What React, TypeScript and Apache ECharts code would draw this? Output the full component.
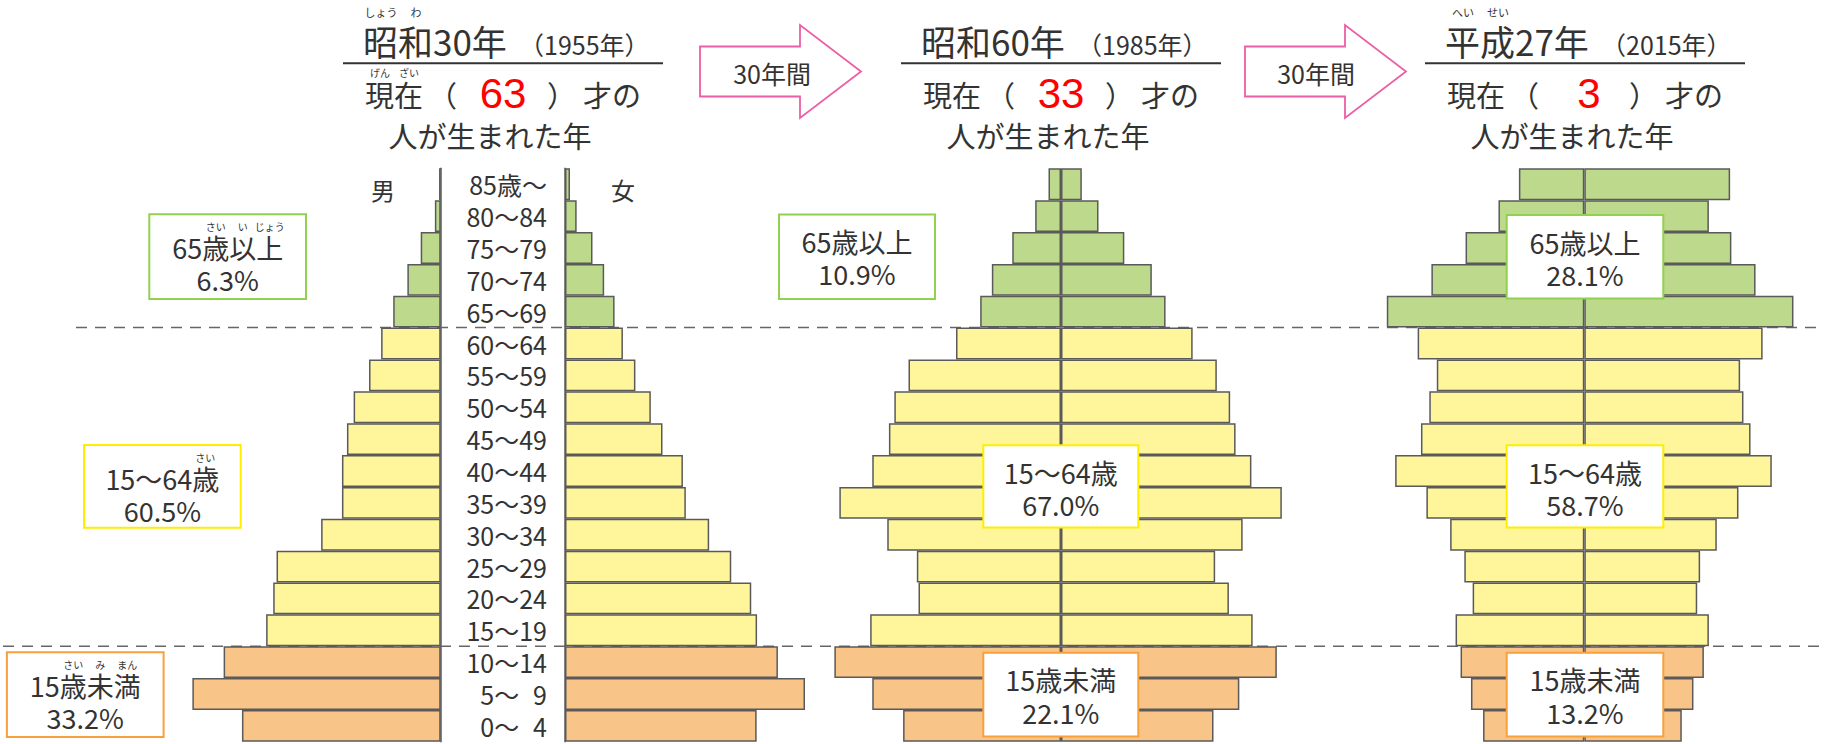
import React, { useEffect, useRef } from "react";
import * as echarts from "echarts";

// ---------- data ----------
const ages = [
  "85歳～", "80～84", "75～79", "70～74", "65～69", "60～64", "55～59", "50～54", "45～49",
  "40～44", "35～39", "30～34", "25～29", "20～24", "15～19", "10～14", "5～\u20079", "0～\u20074",
];
// population (万人), top (85+) to bottom (0-4)
const male1955 = [4, 14, 48, 80, 114, 143, 172, 209, 225, 237, 237, 287, 394, 402, 419, 521, 596, 477];
const female1955 = [12, 28, 66, 94, 119, 139, 169, 206, 234, 283, 290, 346, 399, 447, 461, 511, 576, 460];
const male1985 = [30, 62, 117, 166, 194, 252, 366, 400, 413, 453, 532, 417, 346, 342, 458, 544, 453, 379];
const female1985 = [50, 90, 152, 218, 251, 316, 374, 406, 419, 457, 530, 436, 370, 403, 460, 518, 428, 366];
const male2015 = [157, 206, 285, 367, 474, 400, 354, 372, 392, 454, 379, 322, 288, 268, 309, 297, 272, 243];
const female2015 = [350, 299, 353, 411, 502, 428, 374, 382, 399, 450, 370, 318, 278, 271, 299, 287, 262, 234];

const eraTitles = ["昭和30年", "昭和60年", "平成27年"];
const adYears = ["（1955年）", "（1985年）", "（2015年）"];
const agesNow = ["63", "33", "3"];
const groupNames = ["65歳以上", "15～64歳", "15歳未満"];
const pctOld = ["6.3%", "10.9%", "28.1%"];
const pctWork = ["60.5%", "67.0%", "58.7%"];
const pctYoung = ["33.2%", "22.1%", "13.2%"];
const arrowLabel = "30年間";

// ---------- style ----------
const CJK = '"Noto Sans CJK JP", "Noto Sans", sans-serif';
const SANS = '"Liberation Sans", Arial, sans-serif';
const TXT = "#333333";
const FILL = { old: "#bdd98b", work: "#fff59b", young: "#f9c487" };
const BOX = { old: "#92d050", work: "#ffee00", young: "#f7a03c" };
const BORDER = "#5a5a5a";

const PX_PER_UNIT = 1 / 2.4;
const PANEL_MAX = [620, 560, 540];
const GRID_TOP = 168.3;
const GRID_H = 573.5;
const axisX = [[440.7, 565], [1061, 1061], [1584.3, 1584.3]];
const centers = [503, 1061, 1585];

function groupOf(i: number) {
  return i < 5 ? "old" : i < 15 ? "work" : "young";
}

function txt(text: string, x: number, y: number, size: number, o: any = {}) {
  const align = o.align || "center";
  return {
    type: "text",
    x,
    y,
    z: 120,
    silent: true,
    style: {
      text,
      fill: o.fill || TXT,
      fontSize: size,
      fontFamily: o.family || CJK,
      fontWeight: "normal",
      align,
      textAlign: align,
      verticalAlign: "middle",
      textVerticalAlign: "middle",
    },
  };
}

export default function App() {
  const ref = useRef<HTMLDivElement>(null);
  useEffect(() => {
    if (!ref.current) return;
    const chart = echarts.init(ref.current, undefined, { renderer: "svg" });
    const males = [male1955, male1985, male2015];
    const females = [female1955, female1985, female2015];

    const grid: any[] = [];
    const xAxis: any[] = [];
    const yAxis: any[] = [];
    const series: any[] = [];
    for (let p = 0; p < 3; p++) {
      const [mx, fx] = axisX[p];
      const maxV = PANEL_MAX[p];
      const w = maxV * PX_PER_UNIT;
      grid.push({ left: mx - w, top: GRID_TOP, width: w, height: GRID_H, containLabel: false });
      grid.push({ left: fx, top: GRID_TOP, width: w, height: GRID_H, containLabel: false });
      const gm = 2 * p;
      const gf = 2 * p + 1;
      xAxis.push({ gridIndex: gm, type: "value", min: 0, max: maxV, inverse: true, show: false });
      xAxis.push({ gridIndex: gf, type: "value", min: 0, max: maxV, show: false });
      const showLine = p === 0;
      yAxis.push({
        gridIndex: gm, type: "category", data: ages, inverse: true, position: "right",
        show: showLine,
        axisLine: { show: showLine, onZero: false, lineStyle: { color: BORDER, width: 1.5 } },
        axisTick: { show: false }, axisLabel: { show: false }, splitLine: { show: false },
      });
      yAxis.push({
        gridIndex: gf, type: "category", data: ages, inverse: true, position: "left",
        show: showLine,
        axisLine: { show: showLine, onZero: false, lineStyle: { color: BORDER, width: 1.5 } },
        axisTick: { show: false },
        axisLabel: { show: p === 0, interval: 0, margin: 18, fontSize: 25, color: TXT, fontFamily: CJK },
        splitLine: { show: false },
      });
      const mk = (arr: number[]) =>
        arr.map((v, i) => ({ value: v, itemStyle: { color: (FILL as any)[groupOf(i)] } }));
      const common = {
        type: "bar",
        barCategoryGap: "0%",
        itemStyle: { borderColor: BORDER, borderWidth: 1.5 },
        silent: true,
        z: 2,
      };
      series.push({ ...common, name: "男" + p, xAxisIndex: gm, yAxisIndex: gm, data: mk(males[p]) });
      series.push({ ...common, name: "女" + p, xAxisIndex: gf, yAxisIndex: gf, data: mk(females[p]) });
    }

    const g: any[] = [];
    const rowH = GRID_H / ages.length;
    const y65 = GRID_TOP + 5 * rowH;
    const y15 = GRID_TOP + 15 * rowH;
    const dash = (x1: number, x2: number, y: number) => ({
      type: "line", z: 1, silent: true,
      shape: { x1, y1: y, x2, y2: y },
      style: { stroke: "#666", lineWidth: 1.5, lineDash: [11, 8] },
    });
    g.push(dash(76, 1820, y65));
    g.push(dash(3, 1820, y15));

    // headers
    for (let p = 0; p < 3; p++) {
      const cx = centers[p];
      g.push(txt(eraTitles[p], cx - 140, 40, 35, { align: "left" }));
      g.push(txt(adYears[p], cx + 16, 44, 25, { align: "left" }));
      g.push({
        type: "line", z: 110, silent: true,
        shape: { x1: cx - 160, y1: 63.3, x2: cx + 160, y2: 63.3 },
        style: { stroke: "#333", lineWidth: 2 },
      });
      g.push(txt("現在", cx - 138, 94, 29, { align: "left" }));
      g.push(txt("（", cx - 75, 94, 29, { align: "left" }));
      g.push(txt(agesNow[p], cx + (p === 2 ? 4 : 0), 93, 42, { fill: "#ff0000", family: SANS }));
      g.push(txt("）", cx + 44, 94, 29, { align: "left" }));
      g.push(txt("才の", cx + 80, 94, 29, { align: "left" }));
      g.push(txt("人が生まれた年", cx - 13, 135, 29));
    }
    // furigana headers
    g.push(txt("しょう", centers[0] - 122, 12, 11));
    g.push(txt("わ", centers[0] - 87, 12, 11));
    g.push(txt("へい", centers[2] - 122, 12, 11));
    g.push(txt("せい", centers[2] - 87, 12, 11));
    g.push(txt("げん", centers[0] - 123, 72.5, 10));
    g.push(txt("ざい", centers[0] - 94, 72.5, 10));

    // arrows
    const arrow = (x0: number) => ({
      type: "polygon", z: 110, silent: true,
      shape: {
        points: [
          [x0, 46.5], [x0 + 100, 46.5], [x0 + 100, 25], [x0 + 161, 71.5],
          [x0 + 100, 118], [x0 + 100, 96.5], [x0, 96.5],
        ],
      },
      style: { fill: "#ffffff", stroke: "#ec5fa6", lineWidth: 1.8 },
    });
    g.push(arrow(700));
    g.push(arrow(1245));
    g.push(txt(arrowLabel, 772, 72.5, 25));
    g.push(txt(arrowLabel, 1316, 72.5, 25));

    // 男 女
    g.push(txt("男", 383, 189, 24));
    g.push(txt("女", 623, 189, 24));

    // group boxes
    const boxes = [
      [[149.3, 214.3, 156.7, 84.7], [84, 445, 156.7, 82.7], [6.9, 652.3, 156.7, 84.7]],
      [[779, 214.4, 156, 84.6], [983.3, 445.3, 155, 82.3], [983.3, 652.7, 155, 83.8]],
      [[1506.7, 215.1, 156.6, 83.4], [1506.7, 445.3, 156.6, 82.3], [1506.7, 652.7, 156.6, 83.8]],
    ];
    const pcts = [pctOld, pctWork, pctYoung];
    const keys = ["old", "work", "young"];
    for (let p = 0; p < 3; p++) {
      for (let k = 0; k < 3; k++) {
        const [bx, by, bw, bh] = boxes[p][k];
        g.push({
          type: "rect", z: 100, silent: true,
          shape: { x: bx, y: by, width: bw, height: bh },
          style: { fill: "#ffffff", stroke: (BOX as any)[keys[k]], lineWidth: 2 },
        });
        const c = bx + bw / 2;
        const l1 = p === 0 ? by + 33 : by + 27;
        const l2 = p === 0 ? by + 65.5 : by + 59.5;
        g.push(txt(groupNames[k], c, l1, 27));
        g.push(txt(pcts[k][p], c, l2, 27));
        if (p === 0) {
          const fy = l1 - 21;
          const rubies =
            k === 0 ? [["さい", -12], ["い", 15], ["じょう", 42]]
              : k === 1 ? [["さい", 43]]
                : [["さい", -12], ["み", 15], ["まん", 42]];
          for (const [r, dx] of rubies as any) g.push(txt(r, c + dx, fy, 10));
        }
      }
    }

    chart.setOption({
      animation: false,
      backgroundColor: "#ffffff",
      grid,
      xAxis,
      yAxis,
      series,
      graphic: { elements: g },
    });
    return () => chart.dispose();
  }, []);
  return (
    <div
      ref={ref}
      style={{ position: "fixed", left: 0, top: 0, width: 1828, height: 744, background: "#fff" }}
    />
  );
}
